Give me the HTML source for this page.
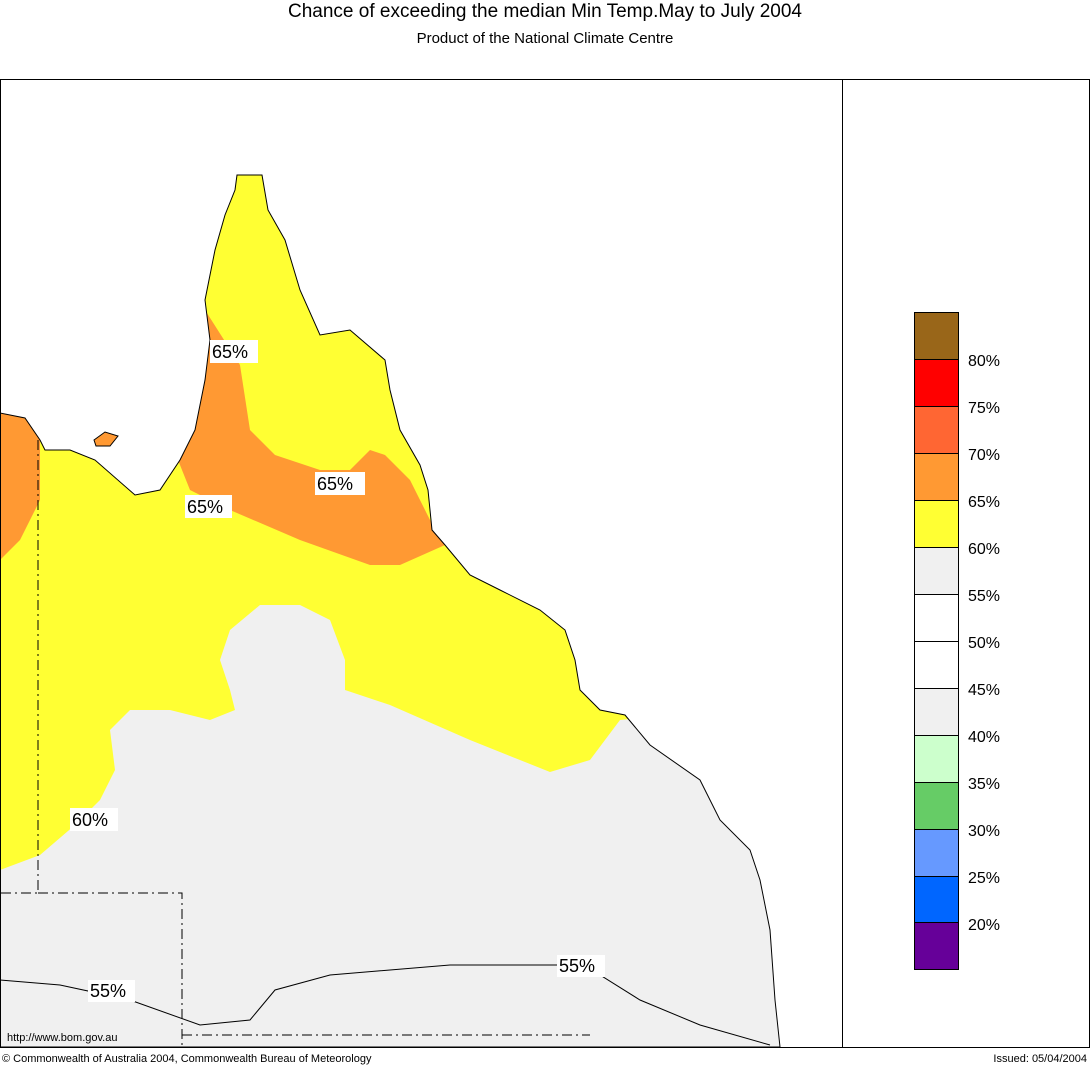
<!DOCTYPE html>
<html><head><meta charset="utf-8"><style>
body{margin:0;background:#fff;width:1090px;height:1066px;overflow:hidden;font-family:"Liberation Sans",sans-serif}
</style></head><body>
<svg width="1090" height="1066" xmlns="http://www.w3.org/2000/svg" font-family="Liberation Sans, sans-serif">
<defs>
<clipPath id="land"><polygon id="lp" points="237,175 262,175 268,210 285,240 300,290 320,335 350,330 385,360 390,390 400,430 420,465 428,490 432,530 445,545 470,575 500,590 540,610 565,630 575,660 580,690 600,710 625,715 650,745 700,780 720,820 750,850 760,880 770,930 775,1000 780,1047 0,1047 0,413 25,418 40,440 45,450 70,450 95,460 135,495 160,490 180,460 195,430 205,380 210,340 205,300 215,250 225,215 235,190"/></clipPath>
</defs>
<text x="545" y="17" font-size="19" text-anchor="middle">Chance of exceeding the median Min Temp.May to July 2004</text>
<text x="545" y="43" font-size="15" text-anchor="middle">Product of the National Climate Centre</text>
<g clip-path="url(#land)">
<rect x="0" y="79" width="842" height="968" fill="#f0f0f0"/>
<polygon fill="#ffff33" points="0,79 842,79 842,700 620,720 590,760 550,772 470,740 390,705 345,690 345,660 330,620 300,605 260,605 230,630 220,660 230,690 235,710 210,720 170,710 130,710 110,730 115,770 100,800 75,825 40,855 0,870"/>
<polygon fill="#ff9933" points="205,310 240,365 250,430 275,455 320,470 350,470 370,450 385,455 410,480 430,520 445,545 400,565 370,565 300,540 230,510 190,490 178,460 195,420 200,380 200,330"/>
<polygon fill="#ff9933" points="0,400 40,400 40,500 20,540 0,560"/>
</g>
<polygon points="94,440 105,432 118,436 110,446 96,446" fill="#ff9933" stroke="#000" stroke-width="1"/>
<use href="#lp" fill="none" stroke="#000" stroke-width="1"/>
<polyline fill="none" stroke="#000" stroke-width="1" points="0,980 60,985 130,1000 200,1025 250,1020 275,990 330,975 450,965 560,965 600,975 640,1000 700,1025 770,1045"/>
<g fill="none" stroke="#000" stroke-width="1" stroke-dasharray="10,4,2,4">
<polyline points="38,440 38,893 0,893"/><polyline points="38,893 182,893 182,1047"/><line x1="182" y1="1035" x2="590" y2="1035"/>
</g>
<g font-size="18">
<rect x="210" y="340" width="48" height="23" fill="#fff"/><text x="212" y="358">65%</text>
<rect x="315" y="472" width="50" height="23" fill="#fff"/><text x="317" y="490">65%</text>
<rect x="185" y="495" width="47" height="23" fill="#fff"/><text x="187" y="513">65%</text>
<rect x="70" y="808" width="48" height="23" fill="#fff"/><text x="72" y="826">60%</text>
<rect x="88" y="980" width="47" height="22" fill="#fff"/><text x="90" y="997">55%</text>
<rect x="557" y="955" width="48" height="22" fill="#fff"/><text x="559" y="972">55%</text>
</g>
<text x="7" y="1041" font-size="11">http://www.bom.gov.au</text>
<rect x="0.5" y="79.5" width="1089" height="968" fill="none" stroke="#000"/>
<line x1="842.5" y1="79" x2="842.5" y2="1047" stroke="#000"/>
<g stroke="#000" stroke-width="1">
<rect x="914.5" y="312.5" width="44" height="47" fill="#996619"/>
<rect x="914.5" y="359.5" width="44" height="47" fill="#ff0000"/>
<rect x="914.5" y="406.5" width="44" height="47" fill="#ff6633"/>
<rect x="914.5" y="453.5" width="44" height="47" fill="#ff9933"/>
<rect x="914.5" y="500.5" width="44" height="47" fill="#ffff33"/>
<rect x="914.5" y="547.5" width="44" height="47" fill="#f0f0f0"/>
<rect x="914.5" y="594.5" width="44" height="47" fill="#ffffff"/>
<rect x="914.5" y="641.5" width="44" height="47" fill="#ffffff"/>
<rect x="914.5" y="688.5" width="44" height="47" fill="#f0f0f0"/>
<rect x="914.5" y="735.5" width="44" height="47" fill="#ccffcc"/>
<rect x="914.5" y="782.5" width="44" height="47" fill="#66cc66"/>
<rect x="914.5" y="829.5" width="44" height="47" fill="#6699ff"/>
<rect x="914.5" y="876.5" width="44" height="46" fill="#0066ff"/>
<rect x="914.5" y="922.5" width="44" height="47" fill="#660099"/>
</g>
<g font-size="16">
<text x="968" y="366">80%</text><text x="968" y="413">75%</text><text x="968" y="460">70%</text><text x="968" y="507">65%</text><text x="968" y="554">60%</text><text x="968" y="601">55%</text><text x="968" y="648">50%</text><text x="968" y="695">45%</text><text x="968" y="742">40%</text><text x="968" y="789">35%</text><text x="968" y="836">30%</text><text x="968" y="883">25%</text><text x="968" y="930">20%</text>
</g>
<text x="2" y="1062" font-size="11">© Commonwealth of Australia 2004, Commonwealth Bureau of Meteorology</text>
<text x="1087" y="1062" font-size="11" text-anchor="end">Issued: 05/04/2004</text>
</svg>
</body></html>
